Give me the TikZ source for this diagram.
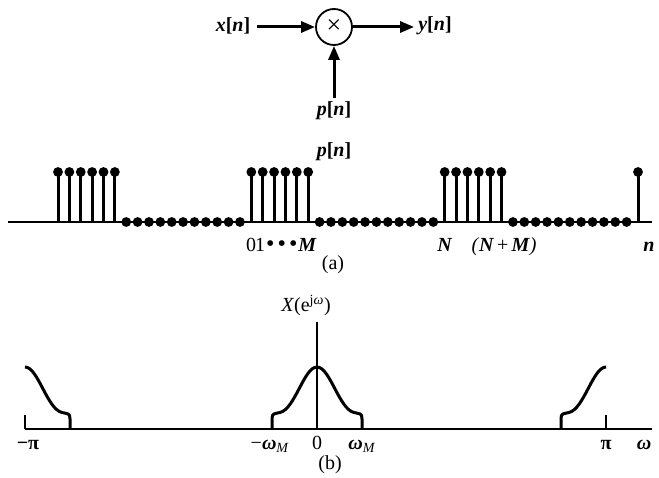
\documentclass[tikz,border=0pt]{standalone}
\usepackage{fontspec}
\setmainfont{Liberation Serif}
\usetikzlibrary{arrows.meta}
\newcommand\vb[1]{\textbf{\textit{#1}}}
\begin{document}
\begin{tikzpicture}[x=1pt,y=-1pt,
  font=\fontsize{20}{24}\selectfont,
  sig/.style={line width=3pt,-{Triangle[length=14pt,width=11pt]}},
  mult/.style={circle,draw,line width=1.8pt,minimum size=36pt,inner sep=0pt},
  lbl/.style={inner sep=0pt},
  bl/.style={inner sep=0pt,anchor=base},
  stemln/.style={line width=3pt},
  axisln/.style={line width=2pt},
  thinln/.style={line width=1.5pt},
  spec/.style={line width=3pt,line join=round}]
\useasboundingbox (0,0) rectangle (659,478);

% --- (top) multiplier block ---
\node[lbl] (xn) at (233,26) {\textbf{\vb{x}[\vb{n}]}};
\node[mult] (m) at (334,27) {\fontsize{26}{26}\selectfont ×};
\node[lbl] (yn) at (435,26) {\textbf{\vb{y}[\vb{n}]}};
\node[bl] (pn) at (334,116) {\textbf{\vb{p}[\vb{n}]}};
\path (xn.east) ++(7,0) coordinate (xa);
\path (yn.west) ++(-4,0) coordinate (ya);
\path (pn.north) ++(0,-4) coordinate (pa);
\draw[sig] (m.west -| xa) -- (m.west);
\draw[sig] (m.east) -- (m.east -| ya);
\draw[sig] (pa) -- (m.south);

% --- (a) stem plot ---
\node[bl] (pnb) at (334,157) {\textbf{\vb{p}[\vb{n}]}};
\draw[axisln] (8,222) -- (652,222);
\foreach \k in {0,...,51} {
  \pgfmathsetmacro\xx{58+11.373*\k}
  \pgfmathtruncatemacro\r{mod(\k,17)}
  \ifnum\r<6
    \draw[stemln] (\xx,222) -- (\xx,172);
    \fill (\xx,172) circle (4.9);
  \else
    \fill (\xx,222) circle (4.9);
  \fi
}
\node[bl,anchor=base west] (lm) at (246,252) {0\hspace{-1pt}1\hspace{1pt}{\fontsize{24}{24}\selectfont •\hspace{3pt}•\hspace{3pt}•}\hspace{1pt}\vb{M}};
\node[bl] (lN) at (445,252) {\vb{N}};
\node[bl] (lNM) at (504,252) {\textit{(}\vb{N}\hspace{3pt}+\hspace{3pt}\vb{M}\textit{)}};
\node[bl] (ln) at (649,252) {\vb{n}};
\node[bl] (la) at (333,270) {(a)};

% --- (b) spectrum ---
\draw[axisln] (25,429) -- (652,429);
\draw[thinln] (317,429) -- (317,322);
\node[bl] (lX) at (306,312) {\textit{X}(e\textsuperscript{j\textit{ω}})};
\draw[thinln] (25,429) -- (25,415);
\draw[thinln] (606,429) -- (606,415);
% centre bump
\draw[spec] (272,429) -- (272,419)
  .. controls (272,413) and (274,414) .. (280,412.5)
  .. controls (295,409) and (304,367) .. (317,367)
  .. controls (330,367) and (339,409) .. (354,412.5)
  .. controls (360,414) and (362,413) .. (362,419) -- (362,429);
% copy at -pi (right half)
\draw[spec] (25,367)
  .. controls (38,367) and (47,409) .. (62,412.5)
  .. controls (68,414) and (70,413) .. (70,419) -- (70,429);
% copy at +pi (left half)
\draw[spec] (561,429) -- (561,419)
  .. controls (561,413) and (563,414) .. (569,412.5)
  .. controls (584,409) and (593,367) .. (606,367);
\node[bl] (lmpi) at (28,449) {\textbf{−π}};
\node[bl] (lmw) at (270,449) {−\vb{ω}\textsubscript{\textit{M}}};
\node[bl] (l0) at (317,449) {0};
\node[bl] (lw) at (362,449) {\vb{ω}\textsubscript{\textit{M}}};
\node[bl] (lpi) at (606,449) {\textbf{π}};
\node[bl] (lom) at (644,449) {\vb{ω}};
\node[bl] (lb) at (330,469) {(b)};
\end{tikzpicture}
\end{document}
